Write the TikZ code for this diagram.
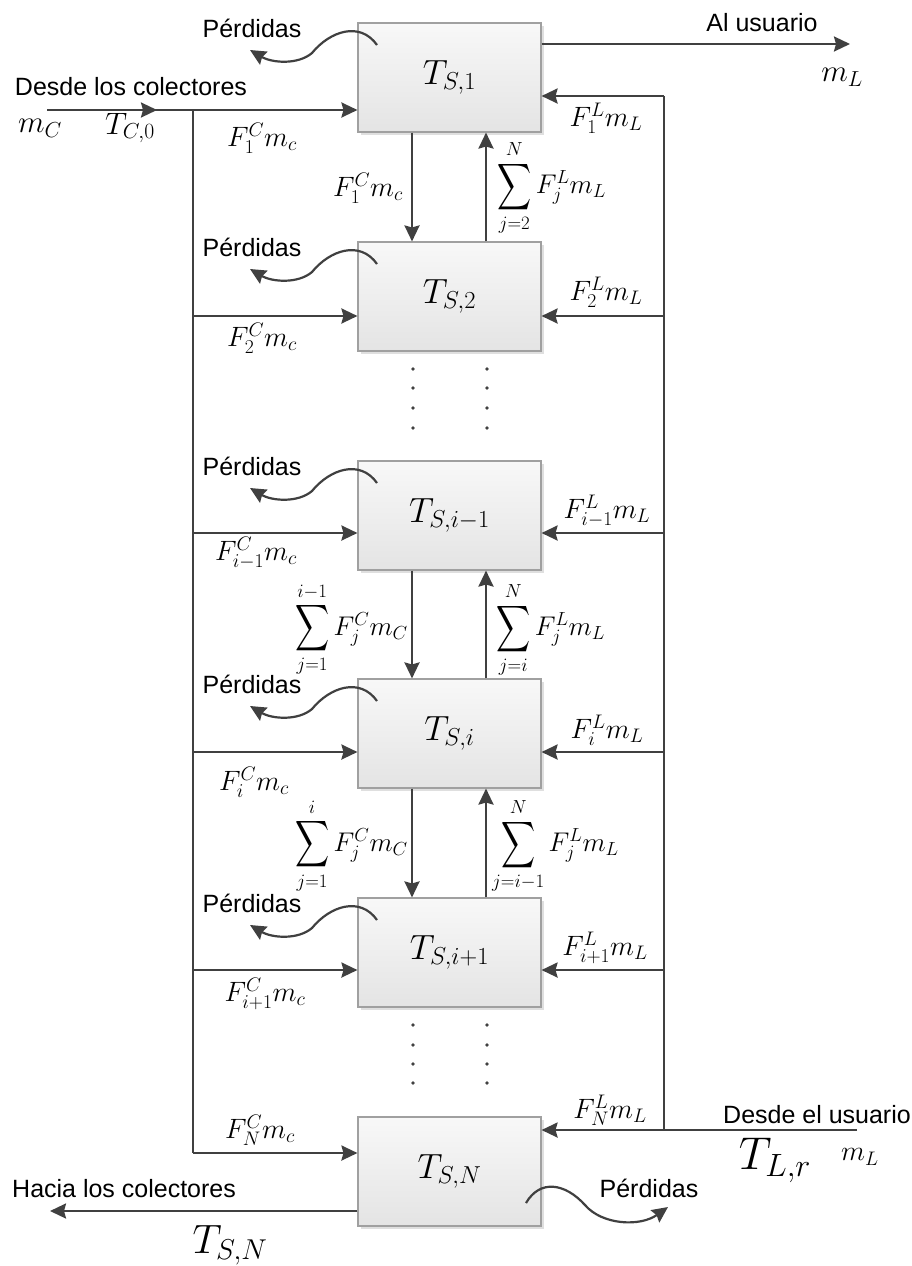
\RequirePackage{fix-cm}
\documentclass[tikz,border=0pt]{standalone}
\usepackage{amsmath}
\usepackage[no-math]{fontspec}
\setmainfont{Liberation Sans}
\usepackage{graphicx}
\usetikzlibrary{arrows.meta,shadows,calc}
\definecolor{lc}{HTML}{404040}
\definecolor{bc}{HTML}{A0A0A0}
\definecolor{gtop}{HTML}{F8F8F8}
\definecolor{gbot}{HTML}{E4E4E4}
\newcommand{\bsum}{\mathop{\vcenter{\hbox{\scalebox{0.95}[1.3]{$\displaystyle\sum$}}}}\limits}
\begin{document}
\begin{tikzpicture}[x=1pt,y=-1pt,
  line/.style={draw=lc,line width=2.4pt},
  flow/.style={line,-{Stealth[length=16pt,width=15pt,inset=2pt]}},
  stage/.style={draw=bc,line width=1.1pt,top color=gtop,bottom color=gbot,
     minimum width=183pt,minimum height=109pt,inner sep=0pt,
     font=\fontsize{35}{40}\selectfont,
     drop shadow={shadow xshift=3pt,shadow yshift=-3pt,fill=black!25,opacity=0.5}},
  txt/.style={inner sep=0pt,font=\fontsize{25}{29}\selectfont},
  mlbl/.style={inner sep=0pt,font=\fontsize{28}{32}\selectfont},
  big/.style={inner sep=0pt,font=\fontsize{31}{35}\selectfont},
  sumlbl/.style={inner sep=0pt,font=\fontsize{27}{31}\selectfont}
]
\useasboundingbox (0,0) rectangle (912,1266);

% stages
\node[stage] (b1) at (449.5,77.5)  {$T_{S,1}$};
\node[stage] (b2) at (449.5,296.5) {$T_{S,2}$};
\node[stage] (b3) at (449.5,515.5) {$T_{S,i-1}$};
\node[stage] (b4) at (449.5,733.5) {$T_{S,i}$};
\node[stage] (b5) at (449.5,952.5) {$T_{S,i+1}$};
\node[stage] (b6) at (449.5,1171.5) {$T_{S,N}$};

% coordinates
\coordinate (cin)  at (47,110);
\coordinate (cmid) at (157,110);
\coordinate (cj)   at (193,110);
\coordinate (cbot) at (193,1153);
\coordinate (l2) at (193,316);
\coordinate (l3) at (193,533);
\coordinate (l4) at (193,752);
\coordinate (l5) at (193,970);
\coordinate (rtop) at (664,96);
\coordinate (rbot) at (664,1130);
\coordinate (uin)  at (857,1130);
\coordinate (r2) at (664,316);
\coordinate (r3) at (664,533);
\coordinate (r4) at (664,752);
\coordinate (r5) at (664,970);
\coordinate (uout) at (850,44);
\coordinate (cout) at (50,1211);

% collector side
\draw[line] (cin) -- (cj);
\draw[flow] (cin) -- (cmid);
\draw[line] (cj) -- (cbot);
\draw[flow] (cj) -- (cj -| b1.west);
\foreach \k in {2,...,5} \draw[flow] (l\k) -- (l\k -| b\k.west);
\draw[flow] (cbot) -- (cbot -| b6.west);

% user side
\draw[line] (rtop) -- (rbot);
\draw[flow] (rtop) -- (rtop -| b1.east);
\foreach \k in {2,...,5} \draw[flow] (r\k) -- (r\k -| b\k.east);
\draw[flow] (uin) -- (uin -| b6.east);
\draw[flow] (uout -| b1.east) -- (uout);
\draw[flow] (cout -| b6.west) -- (cout);

% vertical flows between stages
\foreach \a/\b in {b1/b2,b3/b4,b4/b5}{
  \draw[flow] ([xshift=-37.5pt]\a.south) -- ([xshift=-37.5pt]\b.north);
  \draw[flow] ([xshift=36.5pt]\b.north) -- ([xshift=36.5pt]\a.south);
}

% dots
\foreach \y in {369,388,408,428,1025,1045,1064,1083}
  \foreach \x in {413,487} \fill[lc] (\x,\y) circle (1.8pt);

% losses
\foreach \k/\t in {1/23,2/242,3/461,4/679,5/898}{
  \coordinate (ls\k) at (377,\t+22);
  \coordinate (lm\k) at (312,\t+30);
  \coordinate (le\k) at (250,\t+27);
  \draw[flow,line width=2.2pt] (ls\k) .. controls +(-17,-24) and +(18,-22) .. (lm\k)
     .. controls +(-14,12) and +(22,13) .. (le\k);
  \node[txt] (p\k) at (252,\t+5) {Pérdidas};
}
\coordinate (lsN) at (526,1203);
\coordinate (lmN) at (585,1205);
\coordinate (leN) at (668,1207);
\draw[flow,line width=2.2pt] (lsN) .. controls +(14,-24) and +(-20,-22) .. (lmN)
   .. controls +(17,20) and +(-28,20) .. (leN);
\node[txt] (p6) at (649,1188) {Pérdidas};

% text labels
\node[txt] (tAl) at (762,23) {Al usuario};
\node[txt] (tDc) at (131,87) {Desde los colectores};
\node[txt,anchor=east] (tDu) at (911,1115) {Desde el usuario};
\node[txt,anchor=west] (tHc) at (12,1189) {Hacia los colectores};

\node[big] (mC) at (40,128) {$m_C$};
\node[big] (TC0) at (130,128) {$T_{C,0}$};
\node[big] (mLt) at (842,77) {$m_L$};
\node[inner sep=0pt,font=\fontsize{46}{50}\selectfont] (TLr) at (775,1160) {$T_{L,r}$};
\node[inner sep=0pt,font=\fontsize{28}{32}\selectfont] (mLb) at (860,1157) {$m_L$};
\node[inner sep=0pt,font=\fontsize{41}{45}\selectfont] (TSN) at (230,1245) {$T_{S,N}$};

% flow labels
\node[mlbl] (f1c) at (262,138) {$F_1^C m_c$};
\node[mlbl] (f1cd) at (368,188) {$F_1^C m_c$};
\node[mlbl] (f1l) at (606,118) {$F_1^L m_L$};
\node[mlbl] (f2l) at (606,292) {$F_2^L m_L$};
\node[mlbl] (f2c) at (262,338) {$F_2^C m_c$};
\node[mlbl] (f3l) at (607,511) {$F_{i-1}^L m_L$};
\node[mlbl] (f3c) at (256,553) {$F_{i-1}^C m_c$};
\node[mlbl] (f4l) at (607,730) {$F_i^L m_L$};
\node[mlbl] (f4c) at (254,782) {$F_i^C m_c$};
\node[mlbl] (f5l) at (605,948) {$F_{i+1}^L m_L$};
\node[mlbl] (f5c) at (265,994) {$F_{i+1}^C m_c$};
\node[mlbl] (f6c) at (260,1130) {$F_N^C m_c$};
\node[mlbl] (f6l) at (610,1110) {$F_N^L m_L$};

% sums
\node[sumlbl,anchor=west] (s1) at (497,188) {$\bsum_{j=2}^{N} F_j^L m_L$};
\node[sumlbl,anchor=east] (s3c) at (408,630) {$\bsum_{j=1}^{i-1} F_j^C m_C$};
\node[sumlbl,anchor=west] (s3l) at (496,630) {$\bsum_{j=i}^{N} F_j^L m_L$};
\node[sumlbl,anchor=east] (s4c) at (408,846) {$\bsum_{j=1}^{i} F_j^C m_C$};
\node[sumlbl,anchor=west] (s4l) at (492,846) {$\bsum_{j=i-1}^{N} F_j^L m_L$};
\end{tikzpicture}
\end{document}
